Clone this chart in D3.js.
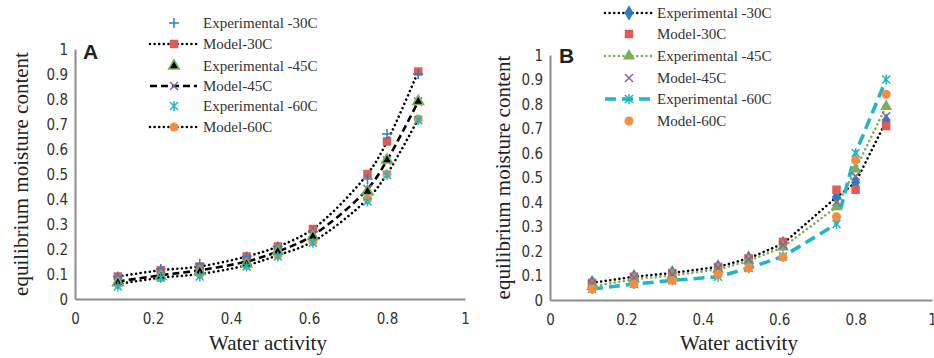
<!DOCTYPE html>
<html><head><meta charset="utf-8">
<script src="https://cdn.jsdelivr.net/npm/d3@7"></script>
<style>body{margin:0;background:#fff} svg{display:block}</style>
</head><body>
<svg id="c" width="934" height="358"></svg>
<script>
// ---------- DATA ----------
const waterActivity = [0.11, 0.22, 0.32, 0.44, 0.52, 0.61, 0.75, 0.80, 0.88];
const xTicks = [0, 0.2, 0.4, 0.6, 0.8, 1];
const yTicks = [0, 0.1, 0.2, 0.3, 0.4, 0.5, 0.6, 0.7, 0.8, 0.9, 1];
const xTickLabels = ["0", "0.2", "0.4", "0.6", "0.8", "1"];
const yTickLabels = ["0", "0.1", "0.2", "0.3", "0.4", "0.5", "0.6", "0.7", "0.8", "0.9", "1"];
const seriesNames = ["Experimental -30C", "Model-30C", "Experimental -45C", "Model-45C", "Experimental -60C", "Model-60C"];
const xTitle = "Water activity";
const yTitle = "equilibrium moisture content";

// Panel A
const aExp30   = [0.09, 0.12, 0.14, 0.17, 0.21, 0.27, 0.48, 0.66, 0.90];
const aModel30 = [0.09, 0.115, 0.13, 0.17, 0.21, 0.28, 0.50, 0.63, 0.91];
const aExp45   = [0.065, 0.09, 0.11, 0.14, 0.19, 0.25, 0.43, 0.556, 0.79];
const aModel45 = [0.07, 0.095, 0.115, 0.15, 0.19, 0.255, 0.44, 0.555, 0.79];
const aExp60   = [0.05, 0.085, 0.09, 0.13, 0.17, 0.225, 0.39, 0.496, 0.716];
const aModel60 = [0.06, 0.085, 0.10, 0.135, 0.175, 0.23, 0.40, 0.50, 0.72];

// Panel B
const bExp30   = [0.07, 0.095, 0.11, 0.135, 0.17, 0.23, 0.42, 0.48, 0.73];
const bModel30 = [0.07, 0.095, 0.11, 0.135, 0.17, 0.237, 0.45, 0.45, 0.71];
const bExp45   = [0.055, 0.085, 0.10, 0.125, 0.16, 0.216, 0.38, 0.535, 0.79];
const bModel45 = [0.065, 0.09, 0.105, 0.13, 0.165, 0.225, 0.40, 0.505, 0.75];
const bExp60   = [0.045, 0.065, 0.08, 0.095, 0.13, 0.178, 0.31, 0.60, 0.90];
const bModel60 = [0.045, 0.065, 0.08, 0.105, 0.13, 0.175, 0.34, 0.57, 0.84];

// ---------- STYLE ----------
const C = {blue:"#2E7EBF", red:"#DE5B58", green:"#7DAF5A", purple:"#8064A2", cyan:"#1FB6C8", orange:"#F68C3F", black:"#000"};
const DOT = {dash:"0.01 4.6", width:2.6, cap:"round"};
const DASHK = {dash:"7 4", width:2.6, cap:"butt"};
const DASHC = {dash:"11 6", width:3.6, cap:"butt"};

const panels = [
  { label:"A", xr:[75,465], yr:[299,49], labelPos:[83,59], yTitleOffset:47,
    legend:{x0:150, x1:197, mx:174, tx:203, rows:[23,44,66,86,106,127]},
    curve:d3.curveCatmullRom.alpha(0.5),
    series:[
      {name:seriesNames[1], data:aModel30, marker:"square", color:C.red, line:DOT, lineColor:C.black},
      {name:seriesNames[3], data:aModel45, marker:"x", color:C.purple, line:DASHK, lineColor:C.black},
      {name:seriesNames[5], data:aModel60, marker:"circle", color:C.orange, line:DOT, lineColor:C.black},
      {name:seriesNames[0], data:aExp30, marker:"plus", color:C.blue},
      {name:seriesNames[2], data:aExp45, marker:"triangle", color:C.green, fill:"#000"},
      {name:seriesNames[4], data:aExp60, marker:"star", color:C.cyan}
    ],
    legendOrder:[3,0,4,1,5,2]
  },
  { label:"B", xr:[550,932], yr:[300,55], labelPos:[559,63], yTitleOffset:40,
    legend:{x0:605, x1:652, mx:629, tx:657, rows:[13,34,56,78,99,121]},
    curve:d3.curveLinear,
    series:[
      {name:seriesNames[0], data:bExp30, marker:"diamond", color:C.blue, line:DOT, lineColor:C.black},
      {name:seriesNames[1], data:bModel30, marker:"square", color:C.red},
      {name:seriesNames[2], data:bExp45, marker:"triangle", color:C.green, line:DOT, lineColor:C.green},
      {name:seriesNames[3], data:bModel45, marker:"x", color:C.purple},
      {name:seriesNames[4], data:bExp60, marker:"star", color:C.cyan, line:DASHC, lineColor:C.cyan},
      {name:seriesNames[5], data:bModel60, marker:"circle", color:C.orange}
    ],
    legendOrder:[0,1,2,3,4,5]
  }
];

const svg = d3.select("#c");

function drawMarker(g, type, color, fill, cx, cy) {
  const m = g.append("g").attr("transform", `translate(${cx},${cy})`);
  const sym = (t, size) => m.append("path").attr("d", d3.symbol().type(t).size(size)());
  if (type === "square") sym(d3.symbolSquare, 72).attr("fill", color);
  else if (type === "circle") sym(d3.symbolCircle, 64).attr("fill", color);
  else if (type === "diamond") sym(d3.symbolDiamond, 70).attr("fill", color);
  else if (type === "triangle") sym(d3.symbolTriangle, fill ? 48 : 62).attr("fill", fill || color).attr("stroke", color).attr("stroke-width", fill ? 1.6 : 0);
  else {
    const r = 5;
    let d = "";
    if (type === "plus") d = `M${-r},0H${r}M0,${-r}V${r}`;
    if (type === "x" ) d = `M${-4},${-4}L4,4M${-4},4L4,${-4}`;
    if (type === "star") d = `M${-4},${-4}L4,4M${-4},4L4,${-4}M0,${-5}V5`;
    m.append("path").attr("d", d).attr("stroke", color).attr("stroke-width", 1.5).attr("fill", "none");
  }
}

panels.forEach(p => {
  const x = d3.scaleLinear().domain([0, 1]).range(p.xr);
  const y = d3.scaleLinear().domain([0, 1]).range(p.yr);
  const g = svg.append("g");

  // axes
  const xAxis = d3.axisBottom(x).tickValues(xTicks).tickFormat((d, i) => xTickLabels[i]).tickSize(0).tickPadding(14);
  const yAxis = d3.axisLeft(y).tickValues(yTicks).tickFormat((d, i) => yTickLabels[i]).tickSize(0).tickPadding(7);
  const gx = g.append("g").attr("transform", `translate(0,${p.yr[0]})`).call(xAxis);
  const gy = g.append("g").attr("transform", `translate(${p.xr[0]},0)`).call(yAxis);
  [gx, gy].forEach(a => {
    a.select(".domain").attr("stroke", "#8C8C8C").attr("stroke-width", 2);
    a.selectAll("text").attr("font-family", "'Liberation Sans Narrow','DejaVu Sans Condensed',sans-serif")
      .attr("font-size", 15).attr("fill", "#333");
  });
  gy.selectAll("text").attr("dy", "0.35em");

  // titles
  g.append("text").attr("x", (p.xr[0] + p.xr[1]) / 2 - 2).attr("y", 350).attr("text-anchor", "middle")
    .attr("font-family", "'Liberation Serif','Times New Roman',serif").attr("font-size", 21).attr("fill", "#222").text(xTitle);
  g.append("text").attr("transform", `translate(${p.xr[0] - p.yTitleOffset},${(p.yr[0] + p.yr[1]) / 2}) rotate(-90)`)
    .attr("text-anchor", "middle").attr("font-family", "'Liberation Serif','Times New Roman',serif")
    .attr("font-size", 21).attr("fill", "#222").text(yTitle);
  g.append("text").attr("x", p.labelPos[0]).attr("y", p.labelPos[1]).attr("font-family", "'Liberation Sans','Open Sans',sans-serif")
    .attr("font-weight", "bold").attr("font-size", 21).attr("fill", "#222").text(p.label);

  // lines
  p.series.forEach(s => {
    if (!s.line) return;
    const line = d3.line().x((d, i) => x(waterActivity[i])).y(d => y(d)).curve(p.curve);
    g.append("path").attr("d", line(s.data)).attr("fill", "none").attr("stroke", s.lineColor)
      .attr("stroke-width", s.line.width).attr("stroke-dasharray", s.line.dash).attr("stroke-linecap", s.line.cap);
  });
  // markers
  p.series.forEach(s => {
    s.data.forEach((v, i) => drawMarker(g, s.marker, s.color, s.fill, x(waterActivity[i]), y(v)));
  });

  // legend
  const L = p.legend;
  p.legendOrder.forEach((si, r) => {
    const s = p.series[si];
    const yy = L.rows[r];
    if (s.line) {
      g.append("line").attr("x1", L.x0).attr("x2", L.x1).attr("y1", yy).attr("y2", yy)
        .attr("stroke", s.lineColor).attr("stroke-width", s.line.width)
        .attr("stroke-dasharray", s.line.dash).attr("stroke-linecap", s.line.cap);
    }
    drawMarker(g, s.marker, s.color, s.fill, L.mx, yy);
    g.append("text").attr("x", L.tx).attr("y", yy).attr("dy", "0.35em")
      .attr("font-family", "'Liberation Serif','Times New Roman',serif").attr("font-size", 15).attr("fill", "#333").text(s.name);
  });
});
</script>
</body></html>
